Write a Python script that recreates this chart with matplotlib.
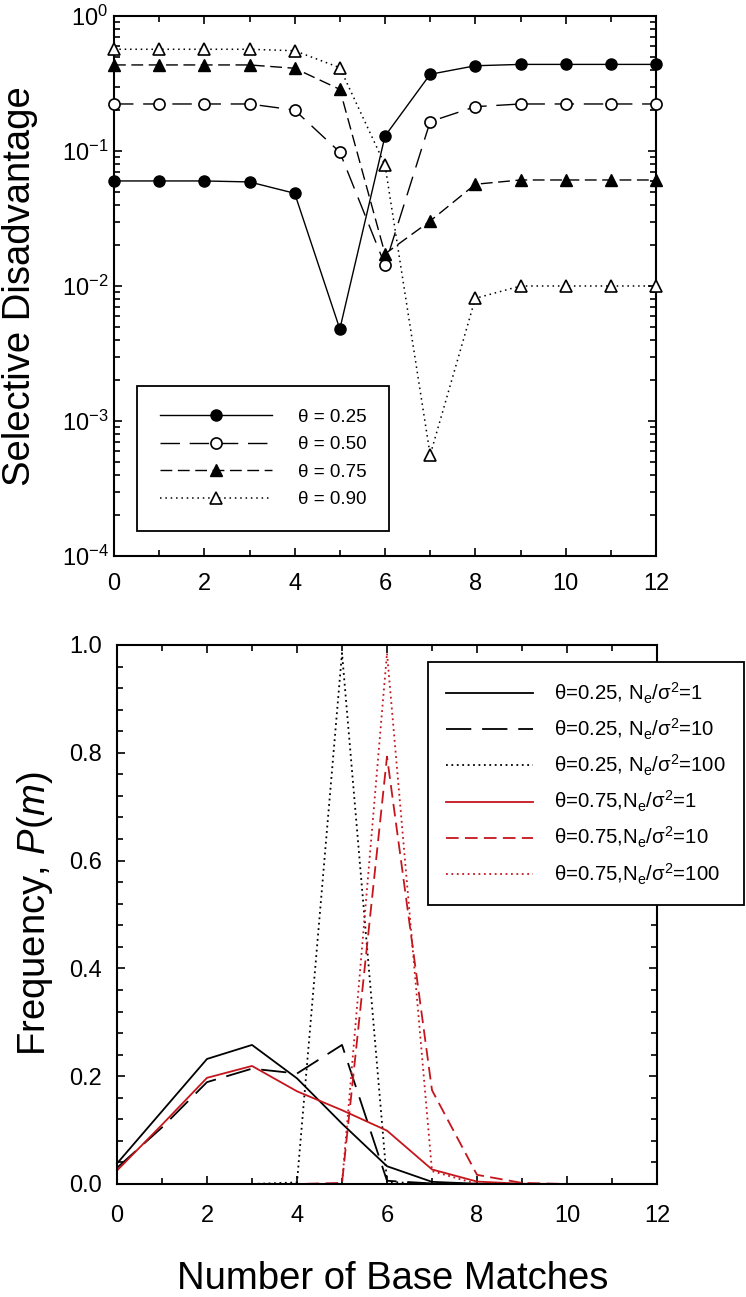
import matplotlib
matplotlib.use("Agg")
import matplotlib.pyplot as plt
from matplotlib.ticker import MultipleLocator, LogLocator, NullFormatter, FormatStrFormatter
import numpy as np

plt.rcParams['font.family'] = ['Liberation Sans', 'DejaVu Sans']
plt.rcParams['mathtext.fontset'] = 'custom'
plt.rcParams['mathtext.rm'] = 'Liberation Sans'
plt.rcParams['mathtext.it'] = 'Liberation Sans:italic'
plt.rcParams['mathtext.bf'] = 'Liberation Sans:bold'

# ---------------- data ----------------
matches = list(range(13))

# top panel: selective disadvantage
sd_025 = [0.060, 0.060, 0.060, 0.059, 0.0486, 0.0048, 0.129, 0.37, 0.428, 0.438, 0.438, 0.438, 0.438]
sd_050 = [0.223, 0.223, 0.223, 0.223, 0.201, 0.098, 0.0143, 0.165, 0.213, 0.223, 0.223, 0.223, 0.223]
sd_075 = [0.434, 0.434, 0.434, 0.434, 0.41, 0.286, 0.0173, 0.0303, 0.0567, 0.061, 0.061, 0.061, 0.061]
sd_090 = [0.567, 0.567, 0.567, 0.567, 0.553, 0.414, 0.0788, 0.00056, 0.0081, 0.0100, 0.0100, 0.0100, 0.0100]
top_labels = ['θ = 0.25', 'θ = 0.50', 'θ = 0.75', 'θ = 0.90']

# bottom panel: frequency P(m)
p_025_1 = [0.038, 0.135, 0.232, 0.258, 0.196, 0.112, 0.033, 0.004, 0.0005, 0, 0, 0, 0]
p_025_10 = [0.030, 0.105, 0.189, 0.214, 0.205, 0.258, 0.006, 0.001, 0, 0, 0, 0, 0]
p_025_100 = [0, 0, 0, 0, 0.003, 0.985, 0.004, 0, 0, 0, 0, 0, 0]
p_075_1 = [0.025, 0.110, 0.197, 0.219, 0.172, 0.137, 0.099, 0.027, 0.0045, 0.0005, 0, 0, 0]
p_075_10 = [0, 0, 0, 0, 0, 0.002, 0.793, 0.174, 0.017, 0.002, 0, 0, 0]
p_075_100 = [0, 0, 0, 0, 0, 0, 0.985, 0.024, 0, 0, 0, 0, 0]
bottom_labels = [r'θ=0.25, N$_\mathregular{e}$/σ$^\mathregular{2}$=1',
                 r'θ=0.25, N$_\mathregular{e}$/σ$^\mathregular{2}$=10',
                 r'θ=0.25, N$_\mathregular{e}$/σ$^\mathregular{2}$=100',
                 r'θ=0.75,N$_\mathregular{e}$/σ$^\mathregular{2}$=1',
                 r'θ=0.75,N$_\mathregular{e}$/σ$^\mathregular{2}$=10',
                 r'θ=0.75,N$_\mathregular{e}$/σ$^\mathregular{2}$=100']

W, H = 746, 1297
fig = plt.figure(figsize=(W / 100, H / 100), dpi=100)

def ax_rect(l, r, t, b):
    return [l / W, 1 - b / H, (r - l) / W, (b - t) / H]

RED = '#c4161c'
TICKFS = 17
LABELFS = 27.5

def style_axes(ax):
    for s in ax.spines.values():
        s.set_linewidth(1.5)
    ax.tick_params(which='both', direction='in', top=True, right=True,
                   labelsize=TICKFS, width=1.2)
    ax.tick_params(which='major', length=6)
    ax.tick_params(which='minor', length=4)

# ---------------- top panel ----------------
ax1 = fig.add_axes(ax_rect(114, 656, 16, 556))
style_axes(ax1)
ax1.tick_params(axis='x', which='both', pad=12)
ax1.tick_params(axis='y', which='both', pad=4)
ms = 8
ax1.plot(matches, sd_025, color='black', lw=1.0, ls='-', marker='o', ms=ms,
         mfc='black', mec='black', clip_on=False, label=top_labels[0], zorder=5)
ax1.plot(matches, sd_050, color='black', lw=1.0, ls=(0, (14, 7)), marker='o', ms=ms,
         mfc='white', mec='black', mew=1.2, clip_on=False, label=top_labels[1], zorder=5)
ax1.plot(matches, sd_075, color='black', lw=1.0, ls=(0, (8.5, 4)), marker='^', ms=ms + 0.5,
         mfc='black', mec='black', clip_on=False, label=top_labels[2], zorder=5)
ax1.plot(matches, sd_090, color='black', lw=1.1, ls=(0, (1, 2.5)), marker='^', ms=ms + 0.5,
         mfc='white', mec='black', mew=1.2, clip_on=False, label=top_labels[3], zorder=5)
ax1.set_yscale('log')
ax1.set_ylim(1e-4, 1)
ax1.set_xlim(0, 12)
ax1.xaxis.set_major_locator(MultipleLocator(2))
ax1.xaxis.set_minor_locator(MultipleLocator(1))
ax1.yaxis.set_major_locator(LogLocator(base=10, numticks=10))
ax1.yaxis.set_minor_locator(LogLocator(base=10, subs=np.arange(2, 10), numticks=10))
ax1.yaxis.set_minor_formatter(NullFormatter())

leg1 = ax1.legend(loc='upper left', bbox_to_anchor=(137 / W, 1 - 386 / H),
                  bbox_transform=fig.transFigure, borderaxespad=0,
                  fontsize=13.5, handlelength=6.0, handletextpad=1.4,
                  labelspacing=0.56, borderpad=1.2, numpoints=1,
                  fancybox=False, framealpha=1, edgecolor='black')
leg1.get_frame().set_linewidth(1.3)

fig.text(2 / W, 1 - 286 / H, 'Selective Disadvantage', rotation=90,
         ha='left', va='center', fontsize=LABELFS)

# ---------------- bottom panel ----------------
ax2 = fig.add_axes(ax_rect(117, 657, 645, 1184))
style_axes(ax2)
ax2.tick_params(axis='x', which='both', pad=15)
ax2.tick_params(axis='y', which='both', pad=11)
lw = 1.3
ax2.plot(matches, p_025_1, color='black', lw=lw, ls='-', label=bottom_labels[0], clip_on=False)
ax2.plot(matches, p_025_10, color='black', lw=lw, ls=(0, (14, 6)), label=bottom_labels[1], clip_on=False)
ax2.plot(matches, p_025_100, color='black', lw=lw, ls=(0, (1, 2)), label=bottom_labels[2], clip_on=False)
ax2.plot(matches, p_075_1, color=RED, lw=lw, ls='-', label=bottom_labels[3], clip_on=False)
ax2.plot(matches, p_075_10, color=RED, lw=lw, ls=(0, (7, 3.5)), label=bottom_labels[4], clip_on=False)
ax2.plot(matches, p_075_100, color=RED, lw=lw, ls=(0, (1, 2)), label=bottom_labels[5], clip_on=False)
ax2.set_xlim(0, 12)
ax2.set_ylim(0, 1)
ax2.xaxis.set_major_locator(MultipleLocator(2))
ax2.xaxis.set_minor_locator(MultipleLocator(1))
ax2.yaxis.set_major_locator(MultipleLocator(0.2))
ax2.yaxis.set_minor_locator(MultipleLocator(0.04))
ax2.yaxis.set_major_formatter(FormatStrFormatter('%.1f'))

leg2 = ax2.legend(loc='upper left', bbox_to_anchor=(428 / W, 1 - 662 / H),
                  bbox_transform=fig.transFigure, borderaxespad=0,
                  fontsize=14.7, handlelength=4.25, handletextpad=1.0,
                  labelspacing=0.54, borderpad=0.9,
                  fancybox=False, framealpha=1, edgecolor='black')
leg2.get_frame().set_linewidth(1.3)
leg2.set_zorder(10)

fig.text(15 / W, 1 - 914 / H, r'Frequency, $\mathit{P(m)}$', rotation=90,
         ha='left', va='center', fontsize=LABELFS)
fig.text(393 / W, 1 - 1289 / H, 'Number of Base Matches', ha='center', va='baseline',
         fontsize=LABELFS)

fig.savefig('out.png', dpi=100)
